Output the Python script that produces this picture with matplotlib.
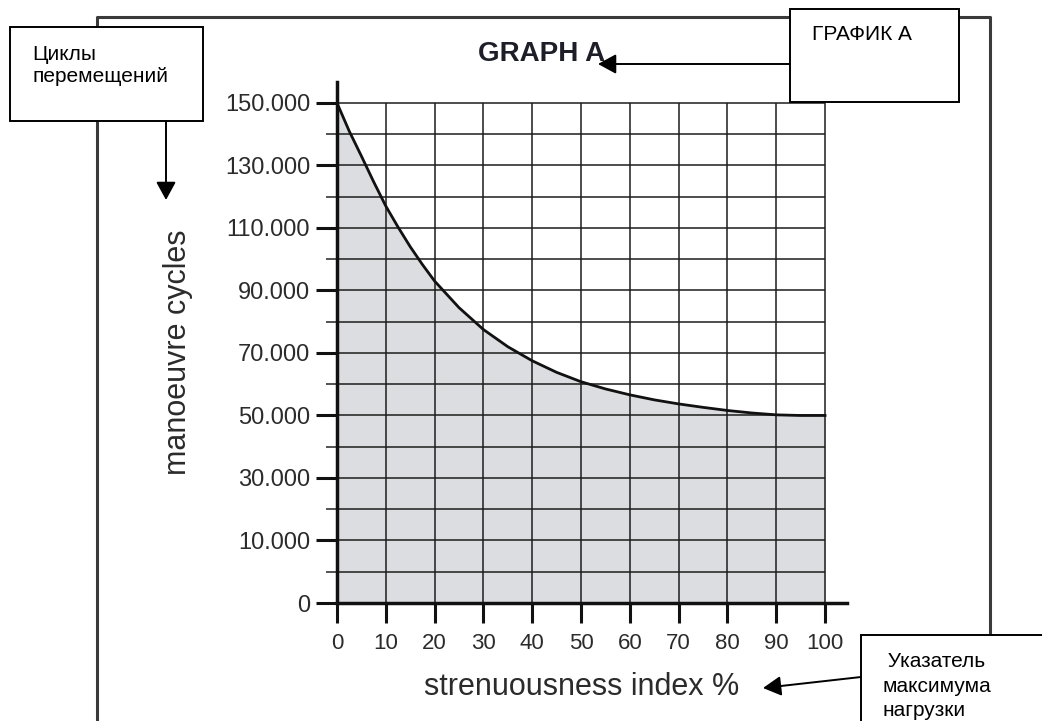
""" graph_a.py

manoeuvre cycles vs strenuousness index, with the russian callout boxes
pasted on top of the scanned chart.
note: the y axis of the original is uneven, 0 -> 10.000 takes the same
room as 10.000 -> 30.000, so a piecewise scale is used.
"""

import numpy as np
import matplotlib.pyplot as plt
from matplotlib.patches import Rectangle

plt.rcParams['font.family'] = ['Liberation Sans', 'DejaVu Sans']

# curve
strenuousness = [0, 2.5, 5, 7.5, 10, 12.5, 15, 17.5, 20, 25, 30, 35, 40, 45, 50,
                 55, 60, 65, 70, 75, 80, 85, 90, 95, 100]
cycles = [150000, 141000, 133000, 124800, 117000, 110300, 104000, 98300, 93000, 84500, 77500,
          72000, 67500, 63800, 60800, 58500, 56600, 55000, 53700, 52600, 51600, 50800,
          50200, 50000, 50000]

x_ticks = list(range(0, 101, 10))
y_labeled = [0, 10000, 30000, 50000, 70000, 90000, 110000, 130000, 150000]
y_labels = ['0', '10.000', '30.000', '50.000', '70.000', '90.000', '110.000', '130.000', '150.000']
y_unlabeled = [5000, 20000, 40000, 60000, 80000, 100000, 120000, 140000]

title = 'GRAPH A'
x_title = 'strenuousness index %'
y_title = 'manoeuvre cycles'
note_cycles = ['Циклы', 'перемещений']
note_graph = 'ГРАФИК А'
note_index = [' Указатель', 'максимума', 'нагрузки']


def forward(v):
    v = np.asarray(v, dtype=float)
    return np.where(v <= 10000, v / 5000.0, 1.0 + v / 10000.0)


def inverse(p):
    p = np.asarray(p, dtype=float)
    return np.where(p <= 2, p * 5000.0, (p - 1.0) * 10000.0)


W, H = 1042, 721
fig = plt.figure(figsize=(W / 100, H / 100), dpi=100)

# chart axes, placed in pixels of the reference
ax = fig.add_axes([337 / W, (H - 603) / H, 510 / W, 521 / H])
ax.set_facecolor('none')
ax.set_yscale('function', functions=(forward, inverse))
ax.set_xlim(0, 104.5)
ax.set_ylim(0, 156700)

ink = '#1c1c1c'
txt = '#2b2b2b'

ax.fill_between(strenuousness, cycles, 0, color='#dcdde0', lw=0, zorder=1)
ax.vlines(x_ticks, 0, 150000, color=ink, lw=1.1, zorder=2)
ax.hlines(sorted(y_labeled + y_unlabeled), 0, 100, color=ink, lw=1.1, zorder=2)
ax.plot(strenuousness, cycles, color='#111111', lw=2.0, zorder=3)

for side in ['top', 'right']:
    ax.spines[side].set_visible(False)
for side in ['left', 'bottom']:
    ax.spines[side].set_linewidth(2.5)
    ax.spines[side].set_color('#111111')
    ax.spines[side].set_zorder(4)

ax.set_xticks(x_ticks)
ax.set_yticks(y_labeled, y_labels)
ax.set_yticks(y_unlabeled, minor=True)
ax.tick_params(axis='x', length=14.4, width=2.2, pad=7, labelsize=16, labelcolor=txt, color='#111111')
ax.tick_params(axis='y', which='major', length=15, width=2.2, pad=4.3, labelsize=17,
               labelcolor=txt, color='#111111')
ax.tick_params(axis='y', which='minor', length=8, width=1.3, color='#444444')

ax.set_title(title, x=0.402, pad=15.3, fontsize=20, fontweight='bold', color='#1e1e28')
ax.set_xlabel(x_title, fontsize=22, color=txt, va='center')
ax.xaxis.set_label_coords(0.48, -0.161)
ax.set_ylabel(y_title, fontsize=22, color=txt, va='center')
ax.yaxis.set_label_coords(-0.312, 0.481)

# overlay in pixel coords for the frame and the callouts
ov = fig.add_axes([0, 0, 1, 1], zorder=5)
ov.set_xlim(0, W)
ov.set_ylim(H, 0)
ov.axis('off')

ov.plot([97, 97, 990, 990], [740, 17, 17, 740], color='#3a3a3a', lw=2.2, zorder=1)

box = dict(fc='white', ec='black', lw=1.4, zorder=3)
ov.add_patch(Rectangle((10, 27), 193, 94, **box))
ov.add_patch(Rectangle((790, 9), 169, 93, **box))
ov.add_patch(Rectangle((861, 635), 220, 120, **box))

note_kw = dict(fontsize=15, color='black', va='baseline', ha='left', zorder=4)
ov.text(32, 60, note_cycles[0], **note_kw)
ov.text(32, 82, note_cycles[1], **note_kw)
ov.text(812, 40, note_graph, **note_kw)
for i, line in enumerate(note_index):
    ov.text(882, 667 + 24.5 * i, line, **note_kw)

arrow = dict(arrowstyle='-|>,head_length=0.55,head_width=0.3', color='black', lw=1.4,
             shrinkA=0, shrinkB=0, mutation_scale=20)
ov.annotate('', xy=(166, 200), xytext=(166, 121), arrowprops=arrow, zorder=4)
ov.annotate('', xy=(598, 64), xytext=(790, 64), arrowprops=arrow, zorder=4)
ov.annotate('', xy=(763, 688), xytext=(861, 677), arrowprops=arrow, zorder=4)

fig.savefig('out.png', dpi=100, facecolor='white')
